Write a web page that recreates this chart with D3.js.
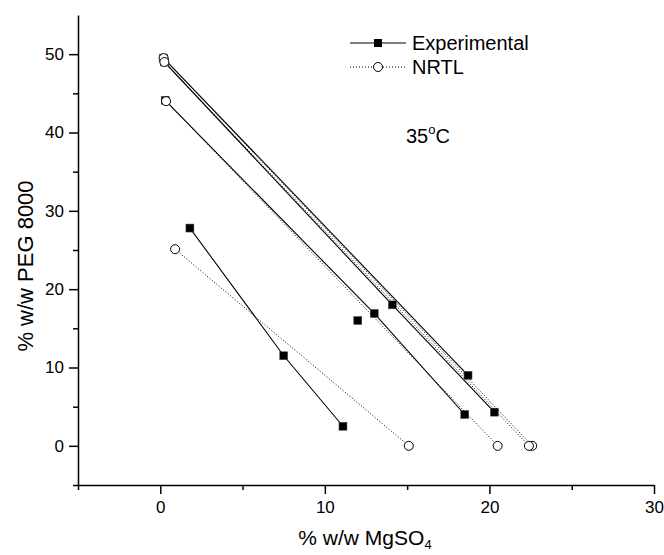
<!DOCTYPE html>
<html>
<head>
<meta charset="utf-8">
<script src="https://cdn.jsdelivr.net/npm/d3@7"></script>
<style>
  body { margin: 0; background: #fff; }
  svg { font-family: "Liberation Sans", Arial, sans-serif; }
</style>
</head>
<body>
<div id="chart"></div>
<script>
// experimental tie lines (% MgSO4, % PEG 8000): top phase, feed, bottom phase
const expTie1 = [[1.8, 27.8], [7.5, 11.5], [11.1, 2.5]];
const expTie2 = [[0.3, 44.1], [13.0, 16.9], [18.5, 4.0]];
const expTie3 = [[0.2, 49.5], [18.7, 9.0]];
const expTie4 = [[0.25, 49.0], [14.1, 18.0], [20.3, 4.3]];
const expLoose = [[12.0, 16.0]];

// NRTL predicted tie lines
const nrtlTie1 = [[0.9, 25.1], [15.1, 0.0]];
const nrtlTie2 = [[0.35, 44.0], [20.5, 0.0]];
const nrtlTie3 = [[0.2, 49.5], [22.6, 0.0]];
const nrtlTie4 = [[0.25, 49.0], [22.4, 0.0]];

const xTicks = [-5, 0, 5, 10, 15, 20, 25, 30];
const yTicks = [-5, 0, 5, 10, 15, 20, 25, 30, 35, 40, 45, 50, 55];

const W = 664, H = 555;
const FONT = '"Liberation Sans", Arial, sans-serif';
const svg = d3.select('#chart').append('svg').attr('width', W).attr('height', H);

const x = d3.scaleLinear().domain([-5, 30]).range([78, 654]);
const y = d3.scaleLinear().domain([-5, 55]).range([485, 15]);

// axes (major ticks labelled every 10, minor every 5)
const xAxis = d3.axisBottom(x).tickValues(xTicks)
  .tickSize(0).tickFormat(d => d % 10 === 0 ? d : '');
const gx = svg.append('g').attr('transform', 'translate(0,485)').call(xAxis);
gx.select('.domain').attr('stroke', '#000').attr('stroke-width', 1.5);
gx.selectAll('.tick line')
  .attr('y2', d => d % 10 === 0 ? 9 : 5).attr('stroke', '#000').attr('stroke-width', 1.5);
gx.selectAll('.tick text').attr('y', 16).attr('font-size', 17)
  .attr('font-family', FONT).attr('fill', '#000');

const yAxis = d3.axisLeft(y).tickValues(yTicks)
  .tickSize(0).tickFormat(d => (d % 10 === 0 && d >= 0 && d <= 50) ? d : '');
const gy = svg.append('g').attr('transform', 'translate(78,0)').call(yAxis);
gy.select('.domain').attr('stroke', '#000').attr('stroke-width', 1.5);
gy.selectAll('.tick line')
  .attr('x2', d => d === 55 ? 0 : (d % 10 === 0 ? -9 : -5)).attr('stroke', '#000').attr('stroke-width', 1.5);
gy.selectAll('.tick text').attr('x', -14).attr('font-size', 17)
  .attr('font-family', FONT).attr('fill', '#000');

// axis titles
const xt = svg.append('text').attr('x', 365).attr('y', 545).attr('text-anchor', 'middle')
  .attr('font-size', 21);
xt.append('tspan').text('% w/w MgSO');
xt.append('tspan').attr('font-size', 13).attr('dy', 4).text('4');

svg.append('text').attr('transform', 'translate(33,266) rotate(-90)')
  .attr('text-anchor', 'middle').attr('font-size', 22).text('% w/w PEG 8000');

const line = d3.line().x(d => x(d[0])).y(d => y(d[1]));

// experimental
const expLines = [expTie1, expTie2, expTie3, expTie4];
svg.append('g').selectAll('path').data(expLines).join('path')
  .attr('d', line).attr('fill', 'none').attr('stroke', '#000').attr('stroke-width', 1.1);
svg.append('g').selectAll('rect').data(expLines.flat().concat(expLoose)).join('rect')
  .attr('x', d => x(d[0]) - 4).attr('y', d => y(d[1]) - 4)
  .attr('width', 8).attr('height', 8).attr('fill', '#000').attr('stroke', '#555').attr('stroke-width', 0.5);

// NRTL
const nrtlLines = [nrtlTie1, nrtlTie2, nrtlTie3, nrtlTie4];
svg.append('g').selectAll('path').data(nrtlLines).join('path')
  .attr('d', line).attr('fill', 'none').attr('stroke', '#000').attr('stroke-width', 1)
  .attr('stroke-dasharray', '1,2');
svg.append('g').selectAll('circle').data(nrtlLines.flat()).join('circle')
  .attr('cx', d => x(d[0])).attr('cy', d => y(d[1])).attr('r', 4.5)
  .attr('fill', '#fff').attr('stroke', '#000').attr('stroke-width', 1);

// legend
const leg = svg.append('g');
leg.append('line').attr('x1', 350).attr('x2', 406).attr('y1', 43).attr('y2', 43)
  .attr('stroke', '#000').attr('stroke-width', 1.2);
leg.append('rect').attr('x', 374).attr('y', 39).attr('width', 8).attr('height', 8).attr('fill', '#000');
leg.append('text').attr('x', 412).attr('y', 50).attr('font-size', 20).text('Experimental');
leg.append('line').attr('x1', 350).attr('x2', 406).attr('y1', 67).attr('y2', 67)
  .attr('stroke', '#000').attr('stroke-width', 1).attr('stroke-dasharray', '1,2');
leg.append('circle').attr('cx', 378).attr('cy', 67).attr('r', 4.5)
  .attr('fill', '#fff').attr('stroke', '#000');
leg.append('text').attr('x', 412).attr('y', 74).attr('font-size', 20).text('NRTL');

// temperature annotation
const tt = svg.append('text').attr('x', 406).attr('y', 143).attr('font-size', 20);
tt.append('tspan').text('35');
tt.append('tspan').attr('font-size', 13).attr('dy', -9).text('o');
tt.append('tspan').attr('dy', 9).text('C');
</script>
</body>
</html>
